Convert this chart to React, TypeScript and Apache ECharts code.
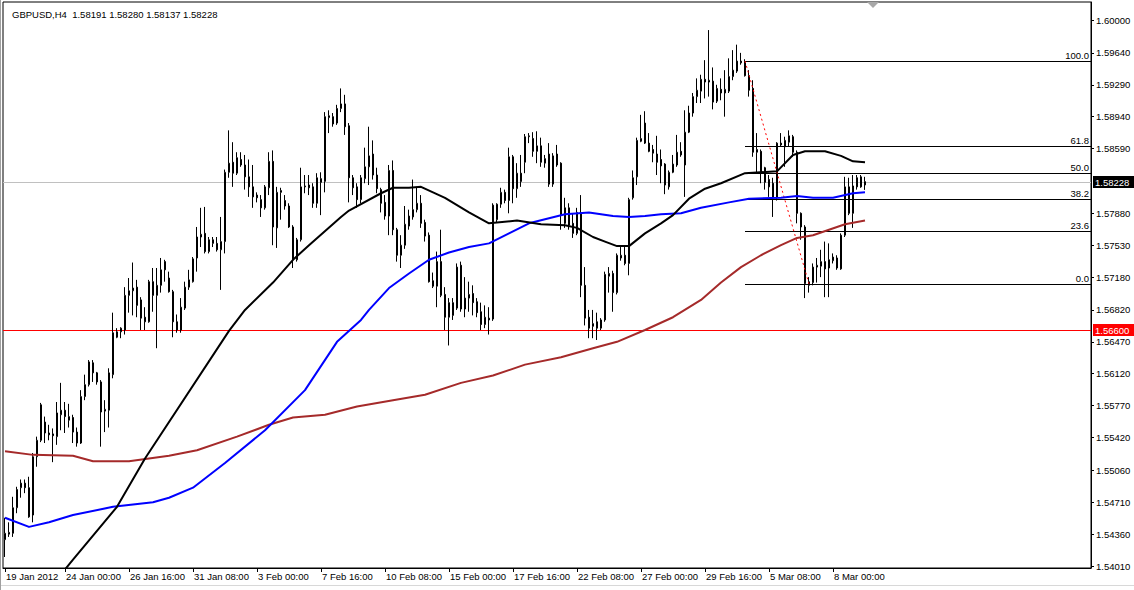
import React, { useEffect, useRef } from "react";
import * as echarts from "echarts";

const SYMBOL = "GBPUSD,H4";
const BAR_COUNT = 272;
const FONT = "'Liberation Sans', Arial, sans-serif";

const OPEN = [
  1.5430,1.5436,1.5437,1.5465,1.5487,1.5492,1.5487,1.5457,1.5521,1.5539,
  1.5559,1.5547,1.5546,1.5543,1.5567,1.5572,1.5561,1.5564,1.5548,1.5536,
  1.5587,1.5600,1.5624,1.5613,1.5603,1.5571,1.5572,1.5611,1.5652,1.5658,
  1.5660,1.5698,1.5703,1.5707,1.5693,1.5674,1.5669,1.5713,1.5698,1.5709,
  1.5735,1.5717,1.5702,1.5669,1.5660,1.5684,1.5707,1.5713,1.5739,1.5762,
  1.5766,1.5746,1.5755,1.5755,1.5748,1.5757,1.5833,1.5844,1.5832,1.5847,
  1.5841,1.5828,1.5817,1.5808,1.5803,1.5794,1.5816,1.5845,1.5772,1.5811,
  1.5802,1.5796,1.5773,1.5737,1.5759,1.5817,1.5819,1.5817,1.5799,1.5826,
  1.5823,1.5893,1.5894,1.5887,1.5903,1.5908,1.5884,1.5827,1.5817,1.5803,
  1.5826,1.5839,1.5853,1.5830,1.5814,1.5800,1.5785,1.5835,1.5770,1.5742,
  1.5753,1.5774,1.5784,1.5792,1.5799,1.5778,1.5764,1.5714,1.5708,1.5735,
  1.5699,1.5674,1.5676,1.5684,1.5731,1.5683,1.5695,1.5700,1.5691,1.5680,
  1.5666,1.5673,1.5672,1.5781,1.5798,1.5811,1.5802,1.5850,1.5815,1.5832,
  1.5844,1.5872,1.5870,1.5856,1.5862,1.5843,1.5853,1.5820,1.5853,1.5843,
  1.5794,1.5794,1.5777,1.5766,1.5788,1.5709,1.5674,1.5664,1.5669,1.5662,
  1.5671,1.5719,1.5722,1.5701,1.5739,1.5742,1.5733,1.5805,1.5828,1.5867,
  1.5887,1.5865,1.5858,1.5853,1.5847,1.5842,1.5817,1.5833,1.5841,1.5856,
  1.5841,1.5877,1.5898,1.5916,1.5922,1.5935,1.5932,1.5933,1.5911,1.5924,
  1.5920,1.5922,1.5938,1.5944,1.5953,1.5954,1.5939,1.5925,1.5855,1.5856,
  1.5838,1.5825,1.5821,1.5805,1.5865,1.5861,1.5866,1.5872,1.5855,1.5788,
  1.5773,1.5709,1.5712,1.5729,1.5730,1.5735,1.5737,1.5736,1.5739,1.5727,
  1.5764,1.5817,1.5788,1.5827,1.5828,1.58191,
];
const HIGH = [
  1.5454,1.5449,1.5477,1.5488,1.5496,1.5496,1.5499,1.5525,1.5543,1.5580,
  1.5565,1.5556,1.5552,1.5581,1.5602,1.5581,1.5579,1.5567,1.5553,1.5594,
  1.5611,1.5627,1.5627,1.5614,1.5605,1.5583,1.5618,1.5679,1.5662,1.5663,
  1.5707,1.5717,1.5734,1.5715,1.5696,1.5685,1.5715,1.5728,1.5728,1.5739,
  1.5737,1.5724,1.5704,1.5677,1.5695,1.5713,1.5726,1.5740,1.5773,1.5794,
  1.5795,1.5762,1.5762,1.5762,1.5784,1.5836,1.5879,1.5866,1.5855,1.5855,
  1.5852,1.5847,1.5841,1.5811,1.5808,1.5819,1.5855,1.5857,1.5817,1.5816,
  1.5808,1.5799,1.5775,1.5761,1.5838,1.5830,1.5830,1.5821,1.5832,1.5833,
  1.5899,1.5901,1.5898,1.5907,1.5925,1.5918,1.5887,1.5830,1.5821,1.5830,
  1.5860,1.5883,1.5868,1.5838,1.5816,1.5808,1.5841,1.5846,1.5772,1.5764,
  1.5796,1.5792,1.5825,1.5817,1.5808,1.5781,1.5767,1.5723,1.5746,1.5770,
  1.5707,1.5695,1.5695,1.5733,1.5735,1.5718,1.5713,1.5709,1.5695,1.5690,
  1.5687,1.5685,1.5799,1.5799,1.5816,1.5814,1.5860,1.5852,1.5843,1.5852,
  1.5875,1.5876,1.5877,1.5878,1.5871,1.5852,1.5865,1.5854,1.5863,1.5844,
  1.5805,1.5799,1.5788,1.5794,1.5808,1.5729,1.5682,1.5682,1.5679,1.5673,
  1.5724,1.5729,1.5725,1.5744,1.5751,1.5751,1.5805,1.5835,1.5871,1.5896,
  1.5900,1.5876,1.5863,1.5873,1.5858,1.5843,1.5835,1.5852,1.5874,1.5866,
  1.5901,1.5906,1.5920,1.5936,1.5940,1.5956,1.5989,1.5948,1.5929,1.5936,
  1.5945,1.5958,1.5967,1.5973,1.5964,1.5957,1.5945,1.5934,1.5876,1.5858,
  1.5839,1.5830,1.5827,1.5866,1.5876,1.5872,1.5879,1.5874,1.5857,1.5789,
  1.5775,1.5718,1.5733,1.5739,1.5748,1.5757,1.5755,1.5744,1.5742,1.5766,
  1.5828,1.5827,1.5830,1.5830,1.5830,1.58280,
];
const LOW = [
  1.5411,1.5433,1.5433,1.5459,1.5476,1.5481,1.5454,1.5449,1.5510,1.5537,
  1.5536,1.5539,1.5515,1.5534,1.5550,1.5547,1.5553,1.5536,1.5532,1.5535,
  1.5583,1.5598,1.5603,1.5600,1.5532,1.5548,1.5553,1.5607,1.5651,1.5651,
  1.5655,1.5679,1.5676,1.5674,1.5660,1.5660,1.5668,1.5680,1.5640,1.5701,
  1.5713,1.5701,1.5652,1.5657,1.5657,1.5682,1.5704,1.5712,1.5724,1.5751,
  1.5744,1.5744,1.5751,1.5746,1.5704,1.5744,1.5827,1.5817,1.5830,1.5839,
  1.5814,1.5806,1.5794,1.5800,1.5784,1.5792,1.5808,1.5753,1.5750,1.5781,
  1.5792,1.5772,1.5728,1.5735,1.5757,1.5810,1.5808,1.5794,1.5794,1.5786,
  1.5811,1.5876,1.5883,1.5885,1.5899,1.5874,1.5800,1.5808,1.5794,1.5799,
  1.5821,1.5819,1.5825,1.5810,1.5789,1.5781,1.5764,1.5764,1.5735,1.5728,
  1.5749,1.5770,1.5781,1.5789,1.5772,1.5757,1.5712,1.5706,1.5685,1.5696,
  1.5660,1.5643,1.5671,1.5682,1.5680,1.5674,1.5680,1.5676,1.5674,1.5660,
  1.5662,1.5655,1.5670,1.5778,1.5794,1.5799,1.5788,1.5799,1.5805,1.5817,
  1.5832,1.5865,1.5850,1.5843,1.5839,1.5838,1.5817,1.5817,1.5839,1.5770,
  1.5772,1.5770,1.5761,1.5764,1.5696,1.5665,1.5651,1.5651,1.5649,1.5660,
  1.5669,1.5701,1.5680,1.5699,1.5736,1.5731,1.5720,1.5803,1.5819,1.5866,
  1.5864,1.5855,1.5844,1.5830,1.5821,1.5809,1.5814,1.5832,1.5839,1.5850,
  1.5806,1.5876,1.5894,1.5909,1.5909,1.5914,1.5916,1.5902,1.5909,1.5912,
  1.5894,1.5920,1.5934,1.5942,1.5951,1.5938,1.5916,1.5850,1.5833,1.5821,
  1.5814,1.5806,1.5784,1.5802,1.5861,1.5839,1.5861,1.5850,1.5777,1.5759,
  1.5695,1.5701,1.5709,1.5712,1.5718,1.5696,1.5696,1.5733,1.5726,1.5726,
  1.5762,1.5786,1.5772,1.5814,1.5816,1.58137,
];
const CLOSE = [
  1.5437,1.5438,1.5465,1.5485,1.5492,1.5487,1.5455,1.5521,1.5539,1.5578,
  1.5547,1.5545,1.5544,1.5569,1.5572,1.5565,1.5565,1.5548,1.5536,1.5587,
  1.5600,1.5625,1.5613,1.5603,1.5570,1.5573,1.5613,1.5657,1.5658,1.5662,
  1.5698,1.5703,1.5706,1.5687,1.5673,1.5669,1.5713,1.5698,1.5709,1.5726,
  1.5726,1.5702,1.5669,1.5660,1.5685,1.5707,1.5715,1.5738,1.5762,1.5765,
  1.5746,1.5759,1.5759,1.5748,1.5757,1.5833,1.5843,1.5832,1.5849,1.5841,
  1.5828,1.5817,1.5806,1.5805,1.5794,1.5817,1.5845,1.5773,1.5811,1.5813,
  1.5796,1.5773,1.5737,1.5759,1.5817,1.5818,1.5816,1.5799,1.5827,1.5822,
  1.5894,1.5895,1.5886,1.5903,1.5908,1.5883,1.5827,1.5816,1.5803,1.5827,
  1.5839,1.5851,1.5830,1.5815,1.5799,1.5785,1.5835,1.5770,1.5742,1.5753,
  1.5776,1.5785,1.5792,1.5799,1.5777,1.5763,1.5713,1.5708,1.5735,1.5698,
  1.5674,1.5690,1.5690,1.5729,1.5683,1.5695,1.5699,1.5690,1.5679,1.5666,
  1.5674,1.5671,1.5797,1.5798,1.5811,1.5802,1.5850,1.5815,1.5832,1.5823,
  1.5872,1.5873,1.5856,1.5862,1.5844,1.5848,1.5820,1.5851,1.5841,1.5786,
  1.5777,1.5775,1.5766,1.5789,1.5709,1.5673,1.5662,1.5667,1.5662,1.5671,
  1.5721,1.5722,1.5701,1.5742,1.5742,1.5733,1.5803,1.5827,1.5868,1.5870,
  1.5865,1.5856,1.5854,1.5844,1.5840,1.5819,1.5833,1.5842,1.5855,1.5852,
  1.5877,1.5898,1.5916,1.5923,1.5935,1.5932,1.5934,1.5910,1.5925,1.5920,
  1.5924,1.5938,1.5945,1.5955,1.5955,1.5939,1.5923,1.5855,1.5858,1.5833,
  1.5822,1.5817,1.5805,1.5865,1.5863,1.5868,1.5873,1.5855,1.5788,1.5773,
  1.5711,1.5713,1.5729,1.5731,1.5735,1.5727,1.5728,1.5740,1.5728,1.5764,
  1.5817,1.5788,1.5818,1.5817,1.5817,1.58228,
];

// moving averages: [bar index, value]
const MA_BLACK = [
  [14, 1.5392], [17, 1.5408], [28, 1.5466], [35, 1.5519], [56, 1.5659], [60, 1.5682],
  [67, 1.5712], [72, 1.5737], [76, 1.5753], [84, 1.5784], [86, 1.5791], [94, 1.5810],
  [97, 1.5816], [101, 1.5816], [104, 1.5817], [110, 1.5805], [116, 1.5789], [121, 1.5777],
  [128, 1.5780], [134, 1.5776], [140, 1.5775], [143, 1.5772], [147, 1.5762], [150, 1.5757],
  [153, 1.5752], [156, 1.5752], [160, 1.5766], [164, 1.5777], [167, 1.5786], [171, 1.5804],
  [175, 1.5815], [179, 1.5821], [185, 1.5832], [193, 1.5834], [197, 1.5852], [200, 1.5856],
  [205, 1.5856], [209, 1.5851], [212, 1.5845], [215, 1.5844],
];
const MA_BLUE = [
  [0, 1.5454], [6, 1.5444], [11, 1.5449], [17, 1.5457], [27, 1.5466], [37, 1.5471],
  [41, 1.5476], [47, 1.5487], [55, 1.5514], [65, 1.5550], [75, 1.5594], [83, 1.5647],
  [89, 1.5671], [91, 1.5682], [96, 1.5706], [101, 1.5722], [106, 1.5737], [111, 1.5745],
  [116, 1.5751], [121, 1.5755], [126, 1.5766], [131, 1.5777], [140, 1.5787], [146, 1.5789],
  [152, 1.5785], [156, 1.5784], [160, 1.5785], [164, 1.5787], [169, 1.5788], [174, 1.5794],
  [181, 1.5800], [186, 1.5804], [194, 1.5805], [198, 1.5807], [202, 1.5805], [207, 1.5805],
  [212, 1.5810], [215, 1.5811],
];
const MA_BROWN = [
  [0, 1.5527], [7, 1.5523], [17, 1.5522], [22, 1.5516], [31, 1.5516], [41, 1.5522],
  [48, 1.5528], [58, 1.5543], [66, 1.5556], [72, 1.5564], [80, 1.5567], [88, 1.5576],
  [97, 1.5583], [105, 1.5589], [114, 1.5602], [122, 1.5610], [130, 1.5622], [139, 1.5630],
  [147, 1.5640], [153, 1.5647], [160, 1.5660], [167, 1.5674], [174, 1.5693], [179, 1.5712],
  [184, 1.5729], [189, 1.5742], [194, 1.5753], [198, 1.5761], [202, 1.5764], [206, 1.5770],
  [210, 1.5776], [215, 1.5780],
];

const X_LABEL_INDEX = [0, 15, 31, 47, 63, 79, 95, 111, 127, 143, 159, 175, 191, 207];
const X_LABEL_TEXT = [
  "19 Jan 2012", "24 Jan 00:00", "26 Jan 16:00", "31 Jan 08:00", "3 Feb 00:00",
  "7 Feb 16:00", "10 Feb 08:00", "15 Feb 00:00", "17 Feb 16:00", "22 Feb 08:00",
  "27 Feb 00:00", "29 Feb 16:00", "5 Mar 08:00", "8 Mar 00:00",
];
const Y_TICKS = [
  1.60000, 1.59640, 1.59290, 1.58940, 1.58590, 1.57880, 1.57530, 1.57180, 1.56820,
  1.56470, 1.56120, 1.55770, 1.55420, 1.55060, 1.54710, 1.54360, 1.54010,
];
const Y_MIN = 1.53989;
const Y_MAX = 1.60198;
// horizontal price lines: current bid and the support level
const PRICE_LINES = [1.58228, 1.566];
const PRICE_LINE_COLORS = ["#C0C0C0", "#FF0000"];
const PRICE_LABEL_BG = ["#000000", "#FF0000"];
const FIB_START = 185;
const FIB_END = 201;
const FIB_HIGH = 1.5955;
const FIB_LOW = 1.57105;
const FIB_LEVELS = [100, 61.8, 50, 38.2, 23.6, 0];

export default function App() {
  const ref = useRef<HTMLDivElement>(null);
  useEffect(() => {
    const chart = echarts.init(ref.current!, null, { renderer: "svg" });
    const last = OPEN.length - 1;
    const candleData = OPEN.map((o, i) => [o, CLOSE[i], LOW[i], HIGH[i]]);
    const categories = Array.from({ length: BAR_COUNT }, (_, i) => String(i));
    const labelAt = (i: number) => X_LABEL_INDEX.indexOf(i);
    const header = [OPEN[last], HIGH[last], LOW[last], CLOSE[last]].map((v) => v.toFixed(5)).join(" ");
    const maSeries = (data: number[][], color: string) => ({
      type: "line",
      data,
      symbol: "none",
      showSymbol: false,
      silent: true,
      smooth: false,
      lineStyle: { color, width: 2, join: "round" },
      z: 5,
    });
    chart.setOption({
      animation: false,
      backgroundColor: "#ffffff",
      title: {
        text: `${SYMBOL}  ${header}`,
        left: 7,
        top: 4,
        textStyle: { fontFamily: FONT, fontSize: 9.5, fontWeight: "normal", color: "#000" },
      },
      graphic: [
        { type: "polygon", shape: { points: [[867, 2], [879, 2], [873, 8]] }, style: { fill: "#A8A8A8" } },
        { type: "line", shape: { x1: 0, y1: 585.5, x2: 1134, y2: 585.5 }, style: { stroke: "#D8D8D8", lineWidth: 1 } },
        { type: "line", shape: { x1: 0.5, y1: 0, x2: 0.5, y2: 590 }, style: { stroke: "#A0A0A0", lineWidth: 1 } },
      ],
      grid: {
        left: 3,
        right: 43,
        top: 2,
        bottom: 22,
        show: true,
        borderColor: "#000",
        borderWidth: 1,
      },
      xAxis: {
        type: "category",
        data: categories,
        boundaryGap: true,
        axisLine: { show: true, lineStyle: { color: "#000", width: 1 } },
        axisTick: {
          show: true,
          alignWithLabel: true,
          interval: (i: number) => labelAt(i) >= 0,
          length: 4,
          lineStyle: { color: "#000" },
        },
        axisLabel: {
          interval: (i: number) => labelAt(i) >= 0,
          formatter: (v: string) => {
            const k = labelAt(Number(v));
            return k >= 0 ? X_LABEL_TEXT[k] : "";
          },
          align: "left",
          margin: 3,
          padding: [0, 0, 0, 1],
          color: "#000",
          fontFamily: FONT,
          fontSize: 9.5,
        },
        splitLine: { show: false },
      },
      yAxis: {
        type: "value",
        position: "right",
        min: Y_MIN,
        max: Y_MAX,
        scale: true,
        axisLine: { show: true, onZero: false, lineStyle: { color: "#000", width: 1 } },
        axisTick: { show: true, customValues: Y_TICKS, length: 3, lineStyle: { color: "#000" } },
        axisLabel: {
          customValues: Y_TICKS,
          formatter: (v: number) => v.toFixed(5),
          margin: 5,
          color: "#000",
          fontFamily: FONT,
          fontSize: 9.5,
        },
        splitLine: { show: false },
      },
      series: [
        {
          type: "custom",
          silent: true,
          z: 1,
          clip: false,
          data: PRICE_LINES.map((p, i) => [0, p, i]),
          renderItem: (params: any, api: any) => {
            const k = Number(api.value(2));
            const p = api.coord([0, api.value(1)]);
            const cs = params.coordSys;
            const right = cs.x + cs.width;
            const y = Math.round(p[1]) + 0.5;
            return {
              type: "group",
              children: [
                {
                  type: "line",
                  shape: { x1: cs.x, y1: y, x2: right, y2: y },
                  style: { stroke: PRICE_LINE_COLORS[k], lineWidth: 1 },
                },
                {
                  type: "rect",
                  shape: { x: right + 2, y: y - 6.5, width: 41, height: 12 },
                  style: { fill: PRICE_LABEL_BG[k] },
                  z2: 10,
                },
                {
                  type: "text",
                  x: right + 4,
                  y: y,
                  z2: 11,
                  style: {
                    text: Number(api.value(1)).toFixed(5),
                    fill: "#ffffff",
                    align: "left",
                    verticalAlign: "middle",
                    font: `9.5px ${FONT}`,
                  },
                },
              ],
            };
          },
        },
        {
          type: "candlestick",
          data: candleData,
          barWidth: 2,
          z: 3,
          itemStyle: {
            color: "#ffffff",
            color0: "#000000",
            borderColor: "#000000",
            borderColor0: "#000000",
            borderColorDoji: "#000000",
            borderWidth: 1,
          },
          markLine: {
            silent: true,
            symbol: ["none", "none"],
            label: { show: false },
            lineStyle: { color: "#FF0000", type: [2, 3], width: 1 },
            data: [[{ coord: [FIB_START, FIB_HIGH] }, { coord: [FIB_END, FIB_LOW] }]],
          },
        },
        maSeries(MA_BROWN, "#A52A2A"),
        maSeries(MA_BLUE, "#0000FF"),
        maSeries(MA_BLACK, "#000000"),
        {
          type: "custom",
          silent: true,
          z: 4,
          data: FIB_LEVELS.map((l) => [FIB_START, FIB_LOW + ((FIB_HIGH - FIB_LOW) * l) / 100, l]),
          renderItem: (params: any, api: any) => {
            const p = api.coord([api.value(0), api.value(1)]);
            const cs = params.coordSys;
            const right = cs.x + cs.width;
            const y = Math.round(p[1]) + 0.5;
            return {
              type: "group",
              children: [
                { type: "line", shape: { x1: p[0], y1: y, x2: right, y2: y }, style: { stroke: "#000", lineWidth: 1 } },
                {
                  type: "text",
                  x: right - 2,
                  y: y - 1,
                  style: {
                    text: Number(api.value(2)).toFixed(1),
                    fill: "#000",
                    align: "right",
                    verticalAlign: "bottom",
                    font: `9.5px ${FONT}`,
                  },
                },
              ],
            };
          },
        },
      ],
    });
    return () => chart.dispose();
  }, []);
  return (
    <div
      ref={ref}
      style={{ position: "fixed", left: 0, top: 0, width: 1134, height: 590, background: "#fff" }}
    />
  );
}
